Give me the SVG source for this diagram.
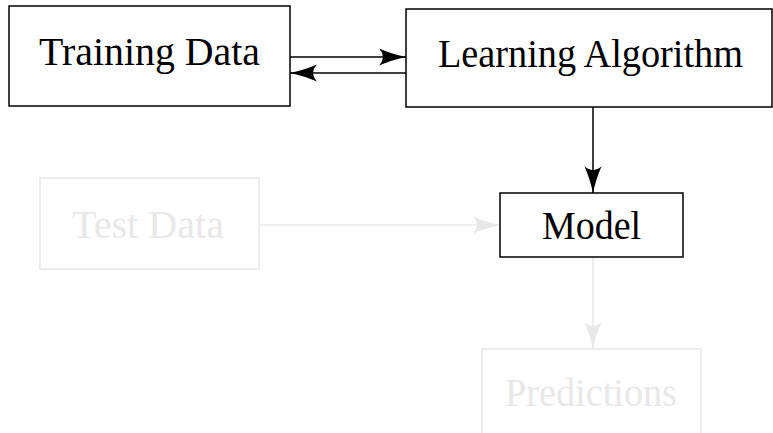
<svg xmlns="http://www.w3.org/2000/svg" width="773" height="433" viewBox="0 0 773 433">
<style>
.box{fill:#fff;stroke:#000;stroke-width:1.5}
.fbox{fill:#fff;stroke:#e8e8e8;stroke-width:1.5}
.t{font-family:"Liberation Serif",serif;font-size:40px;fill:#000;text-anchor:middle}
.ft{font-family:"Liberation Serif",serif;font-size:40px;fill:#e8e8e8;text-anchor:middle}
.e{stroke:#000;stroke-width:1.5;fill:none}
.fe{stroke:#e8e8e8;stroke-width:1.5;fill:none}
</style>
<defs>
<marker id="ah" markerUnits="userSpaceOnUse" markerWidth="30" markerHeight="20" viewBox="-26 -9 28 18" refX="0" refY="0" orient="auto">
<path d="M0,0 Q-14,-3 -25,-8 Q-18,0 -25,8 Q-14,3 0,0 Z" fill="#000"/>
</marker>
<marker id="fah" markerUnits="userSpaceOnUse" markerWidth="30" markerHeight="20" viewBox="-26 -9 28 18" refX="0" refY="0" orient="auto">
<path d="M0,0 Q-14,-3 -25,-8 Q-18,0 -25,8 Q-14,3 0,0 Z" fill="#e8e8e8"/>
</marker>
</defs>
<g id="connectors">
<line class="e" x1="290" y1="57" x2="406" y2="57" marker-end="url(#ah)"/>
<line class="e" x1="406" y1="73" x2="290" y2="73" marker-end="url(#ah)"/>
<line class="e" x1="593" y1="107" x2="593" y2="193" marker-end="url(#ah)"/>
<line class="fe" x1="259" y1="225" x2="500" y2="225" marker-end="url(#fah)"/>
<line class="fe" x1="593" y1="257" x2="593" y2="349" marker-end="url(#fah)"/>
</g>
<g id="training-data">
<rect class="box" x="9" y="6" width="281" height="100"/>
<text class="t" x="149.5" y="65" textLength="221" lengthAdjust="spacingAndGlyphs">Training Data</text>
</g>
<g id="learning-algorithm">
<rect class="box" x="406" y="9" width="366" height="98"/>
<text class="t" x="590.5" y="67" textLength="305" lengthAdjust="spacingAndGlyphs">Learning Algorithm</text>
</g>
<g id="model">
<rect class="box" x="500" y="193" width="183" height="64"/>
<text class="t" x="591.5" y="239" textLength="99" lengthAdjust="spacingAndGlyphs">Model</text>
</g>
<g id="test-data">
<rect class="fbox" x="40" y="178" width="219" height="91"/>
<text class="ft" x="148" y="238" textLength="152" lengthAdjust="spacingAndGlyphs">Test Data</text>
</g>
<g id="predictions">
<rect class="fbox" x="482" y="349" width="219" height="100"/>
<text class="ft" x="591" y="406" textLength="172" lengthAdjust="spacingAndGlyphs">Predictions</text>
</g>
</svg>
